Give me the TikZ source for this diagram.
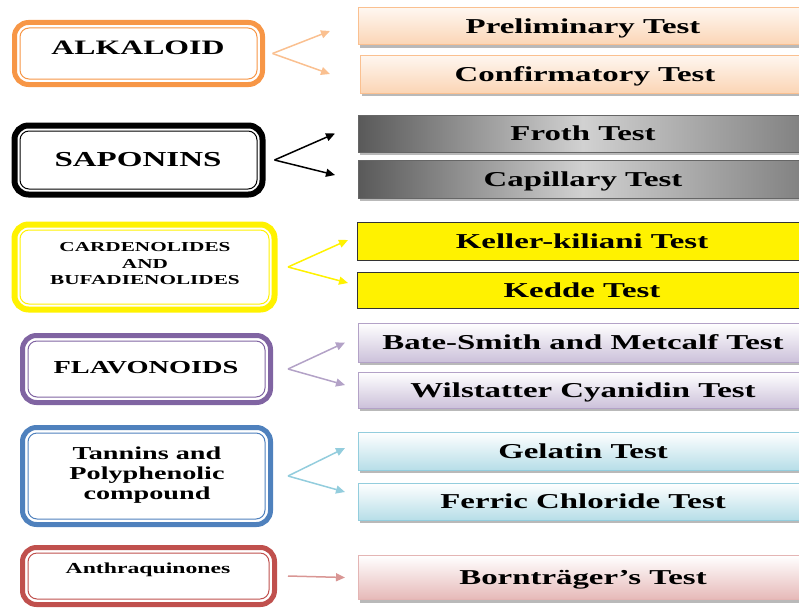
\documentclass[tikz,border=0pt]{standalone}
\usepackage{fontspec}
\setmainfont{Liberation Serif}
\usetikzlibrary{arrows.meta,shadows}
\definecolor{alkor}{HTML}{F79646}
\definecolor{alkpeach}{HTML}{FAC090}
\definecolor{alkfill}{HTML}{FBD5B5}
\definecolor{flvpur}{HTML}{8064A2}
\definecolor{flvlil}{HTML}{B3A2C7}
\definecolor{flvfill}{HTML}{CCC1DA}
\definecolor{tanblu}{HTML}{4F81BD}
\definecolor{tancyan}{HTML}{93CDDD}
\definecolor{tanfill}{HTML}{B7DEE8}
\definecolor{antred}{HTML}{C0504D}
\definecolor{antpink}{HTML}{D99694}
\definecolor{antfill}{HTML}{E6B9B8}
\tikzset{
  catbox/.style={draw=#1,line width=5pt,rounded corners=14pt,fill=white,inner sep=0pt,outer sep=0pt}, % class box
  rim/.style={draw=#1,line width=1pt,rounded corners=9pt},                 % thin inner line
  cattext/.style={font=\bfseries\fontsize{#1}{#1}\selectfont,inner sep=0pt},
  testbox/.style={minimum width=450pt,minimum height=37pt,inner sep=0pt,outer sep=0pt,anchor=west,
                  text height=14pt,text depth=0pt,line width=1pt,font=\bfseries\fontsize{21.2}{24}\selectfont},
  tshadow/.style={drop shadow={shadow xshift=2pt,shadow yshift=-3pt,fill=black!55,opacity=0.5}},
  peach/.style={testbox,draw=alkpeach,top color=alkfill!20,bottom color=alkfill,tshadow},
  steel/.style={testbox,draw=black!60,left color=black!65,right color=black!50,middle color=black!18,tshadow},
  lemon/.style={testbox,draw=black!80,fill=yellow},
  lilac/.style={testbox,draw=flvlil,top color=white,bottom color=flvfill,tshadow},
  aqua/.style={testbox,draw=tancyan,top color=white,bottom color=tanfill,tshadow},
  rose/.style={testbox,draw=antpink!70,top color=white,bottom color=antfill,tshadow},
  link/.style={draw=#1,line width=1.5pt,-{Triangle[length=9pt,width=8pt]}},
}
\newcommand{\wide}[1]{\scalebox{1.55}[1]{#1}}
\newcommand{\innerrim}[2]{% node, colour
  \draw[rim=#2] ([shift={(5.5,5.5)}]#1.north west) rectangle ([shift={(-5.5,-5.5)}]#1.south east);
}

\begin{document}
\begin{tikzpicture}[x=1pt,y=-1pt]
  \useasboundingbox (0,0) rectangle (799,610);
  % alkaloid
  \node[catbox=alkor,minimum width=248pt,minimum height=62pt] (alk) at (138.5,53.5) {};
  \innerrim{alk}{alkor}
  \node[cattext=20.5] (alkt) at (138,48) {\wide{ALKALOID}};
  \node[peach] (prelim) at (358,26.5) {\wide{Preliminary Test}};
  \node[peach,minimum height=38pt] (confirm) at (360,74) {\wide{Confirmatory Test}};
  \draw[link=alkpeach] ([xshift=10pt]alk.east) -- ([xshift=-28pt,yshift=-4.5pt]prelim.west);
  \draw[link=alkpeach] ([xshift=10pt]alk.east) -- ([xshift=-30pt]confirm.west);
  % saponins
  \node[catbox=black,line width=6pt,minimum width=248pt,minimum height=69pt] (sap) at (138.5,160) {};
  \innerrim{sap}{black}
  \node[cattext=21.3] (sapt) at (138,160) {\wide{SAPONINS}};
  \node[steel] (froth) at (358,133.5) {\wide{Froth Test}};
  \node[steel,minimum height=38pt] (capil) at (358,179) {\wide{Capillary Test}};
  \draw[link=black] ([xshift=12pt]sap.east) -- ([xshift=-23pt]froth.west);
  \draw[link=black] ([xshift=12pt]sap.east) -- ([xshift=-23pt,yshift=4pt]capil.west);
  % cardenolides
  \node[catbox=yellow,line width=6pt,minimum width=260pt,minimum height=85pt] (card) at (144.5,267) {};
  \innerrim{card}{yellow}
  \node[cattext=13.7] (cardt) at (145,265)
    {\fontsize{13.7}{16.5}\selectfont\wide{\begin{tabular}{@{}c@{}}CARDENOLIDES\\AND\\BUFADIENOLIDES\end{tabular}}};
  \node[lemon,minimum height=38pt] (keller) at (357,241) {\wide{Keller-kiliani Test}};
  \node[lemon,minimum height=36pt] (kedde) at (357,290) {\wide{Kedde Test}};
  \draw[link=yellow] ([xshift=13.5pt]card.east) -- ([xshift=-9pt,yshift=1pt]keller.west);
  \draw[link=yellow] ([xshift=13.5pt]card.east) -- ([xshift=-9pt,yshift=7pt]kedde.west);
  % flavonoids
  \node[catbox=flvpur,minimum width=248pt,minimum height=67pt] (flv) at (146.5,369) {};
  \innerrim{flv}{flvpur}
  \node[cattext=18.3] (flvt) at (146,368) {\wide{FLAVONOIDS}};
  \node[lilac,minimum height=39pt] (bate) at (358,342.5) {\wide{Bate-Smith and Metcalf Test}};
  \node[lilac,minimum height=36pt] (wilst) at (358,390) {\wide{Wilstatter Cyanidin Test}};
  \draw[link=flvlil] ([xshift=17.5pt]flv.east) -- ([xshift=-13pt]bate.west);
  \draw[link=flvlil] ([xshift=17.5pt]flv.east) -- ([xshift=-13pt,yshift=5pt]wilst.west);
  % tannins
  \node[catbox=tanblu,minimum width=248pt,minimum height=97pt] (tan) at (146.5,476) {};
  \innerrim{tan}{tanblu}
  \node[cattext=18.2] (tant) at (147,475)
    {\fontsize{18.2}{20}\selectfont\wide{\begin{tabular}{@{}c@{}}Tannins and\\Polyphenolic\\compound\end{tabular}}};
  \node[aqua,minimum height=38pt] (gelat) at (358,451) {\wide{Gelatin Test}};
  \node[aqua] (ferric) at (358,501.5) {\wide{Ferric Chloride Test}};
  \draw[link=tancyan] ([xshift=17.5pt]tan.east) -- ([xshift=-13pt,yshift=3pt]gelat.west);
  \draw[link=tancyan] ([xshift=17.5pt]tan.east) -- ([xshift=-13pt,yshift=9.5pt]ferric.west);
  % anthraquinones
  \node[catbox=antred,minimum width=252pt,minimum height=57pt] (ant) at (148.5,576) {};
  \innerrim{ant}{antred}
  \node[cattext=15.3] (antt) at (148,570) {\wide{Anthraquinones}};
  \node[rose,minimum height=44pt] (born) at (358,577.5) {\wide{Bornträger’s Test}};
  \draw[link=antpink] ([xshift=13.5pt]ant.east) -- ([xshift=-13pt]born.west);
\end{tikzpicture}
\end{document}
